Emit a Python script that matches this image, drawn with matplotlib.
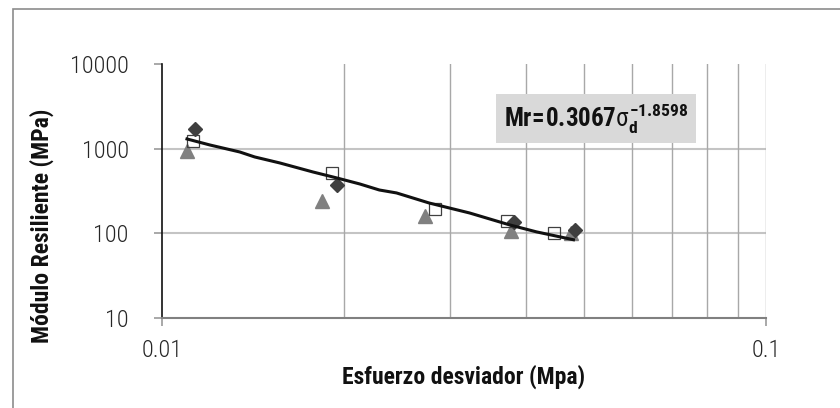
import matplotlib
matplotlib.use("Agg")
import matplotlib.pyplot as plt
from matplotlib.patches import Rectangle

# Ensayos de módulo resiliente (tres series) y curva de ajuste
x_diamond = [0.01134, 0.0195, 0.0382, 0.0482]
y_diamond = [1709, 373, 137, 110]

x_square = [0.01125, 0.0191, 0.0283, 0.0373, 0.0445]
y_square = [1233, 516, 194, 140, 101]

x_triangle = [0.0110, 0.0184, 0.0273, 0.0378, 0.0476]
y_triangle = [950, 241, 160, 106, 101]

x_fit = [0.0110, 0.0120, 0.01345, 0.01424, 0.01567, 0.01777, 0.01947,
         0.02125, 0.0229, 0.02445, 0.0277, 0.0323, 0.0376, 0.0417, 0.0480]
y_fit = [1302, 1106, 914, 798, 678, 531, 451, 383, 325, 300, 228, 174,
         126, 104, 84]

y_ticks = [10, 100, 1000, 10000]
x_ticks = [0.01, 0.1]

plt.rcParams['font.family'] = ['Roboto Condensed', 'DejaVu Sans']
plt.rcParams['mathtext.fontset'] = 'custom'
plt.rcParams['mathtext.rm'] = 'Roboto Condensed'
plt.rcParams['mathtext.it'] = 'Roboto Condensed'
plt.rcParams['mathtext.bf'] = 'Roboto Condensed:bold'

fig = plt.figure(figsize=(8.4, 4.08), dpi=100)
ax = fig.add_axes([162 / 840, 90 / 408, 604 / 840, 254 / 408])

# marco exterior del gráfico
fig.patches.append(Rectangle((13 / 840, -0.1), 1.2, (399 / 408) + 0.1,
                             transform=fig.transFigure, fill=False,
                             edgecolor='#8c8c8c', linewidth=1.2))

ax.set_xscale('log')
ax.set_yscale('log')
ax.set_xlim(0.01, 0.1)
ax.set_ylim(10, 10000)

ax.plot(x_triangle, y_triangle, linestyle='none', marker='^', markersize=10,
        color='#808080', zorder=3)
ax.plot(x_diamond, y_diamond, linestyle='none', marker='D', markersize=7.5,
        color='#3f3f3f', zorder=4)
ax.plot(x_square, y_square, linestyle='none', marker='s', markersize=9,
        markerfacecolor='none', markeredgecolor='#404040',
        markeredgewidth=0.9, zorder=5)
ax.plot(x_fit, y_fit, color='#111111', linewidth=2.2, zorder=6)

# rejilla
for v in [100, 1000]:
    ax.axhline(v, color='#c4c4c4', linewidth=1.5, zorder=1)
for v in [0.02, 0.03, 0.04, 0.05, 0.06, 0.07, 0.08, 0.09, 0.1]:
    ax.axvline(v, color='#a8a8a8', linewidth=1.0, zorder=1)

for s in ['top', 'right']:
    ax.spines[s].set_visible(False)
ax.spines['left'].set_color('#111111')
ax.spines['left'].set_linewidth(1.2)
ax.spines['bottom'].set_color('#808080')
ax.spines['bottom'].set_linewidth(1.5)

ax.set_xticks(x_ticks)
ax.set_xticklabels(['0.01', '0.1'])
ax.set_yticks(y_ticks)
ax.set_yticklabels([str(v) for v in y_ticks])
ax.minorticks_off()
ax.tick_params(axis='both', direction='out', length=6, width=1.2,
               color='#999999', labelsize=17.5, labelcolor='#262626')
for lbl in ax.get_xticklabels() + ax.get_yticklabels():
    lbl.set_fontweight('light')
ax.tick_params(axis='y', pad=18)
ax.tick_params(axis='x', pad=9)

ax.text(0.0523, 2244,
        r'$\mathbf{Mr\!=\!0.3067}\sigma_{\mathbf{d}}^{\mathbf{-1.8598}}$',
        ha='center', va='center', fontsize=18, color='#111111', zorder=7,
        bbox=dict(boxstyle='square,pad=0.3', facecolor='#d9d9d9',
                  edgecolor='none'))

fig.text(464 / 840, 1 - 377 / 408, 'Esfuerzo desviador (Mpa)',
         ha='center', va='center', fontsize=17, fontweight='bold',
         color='#111111')
fig.text(42 / 840, 1 - 226 / 408, 'Módulo Resiliente (MPa)',
         ha='center', va='center', rotation=90, fontsize=17,
         fontweight='bold', color='#111111')

fig.savefig('out.png', dpi=100)
